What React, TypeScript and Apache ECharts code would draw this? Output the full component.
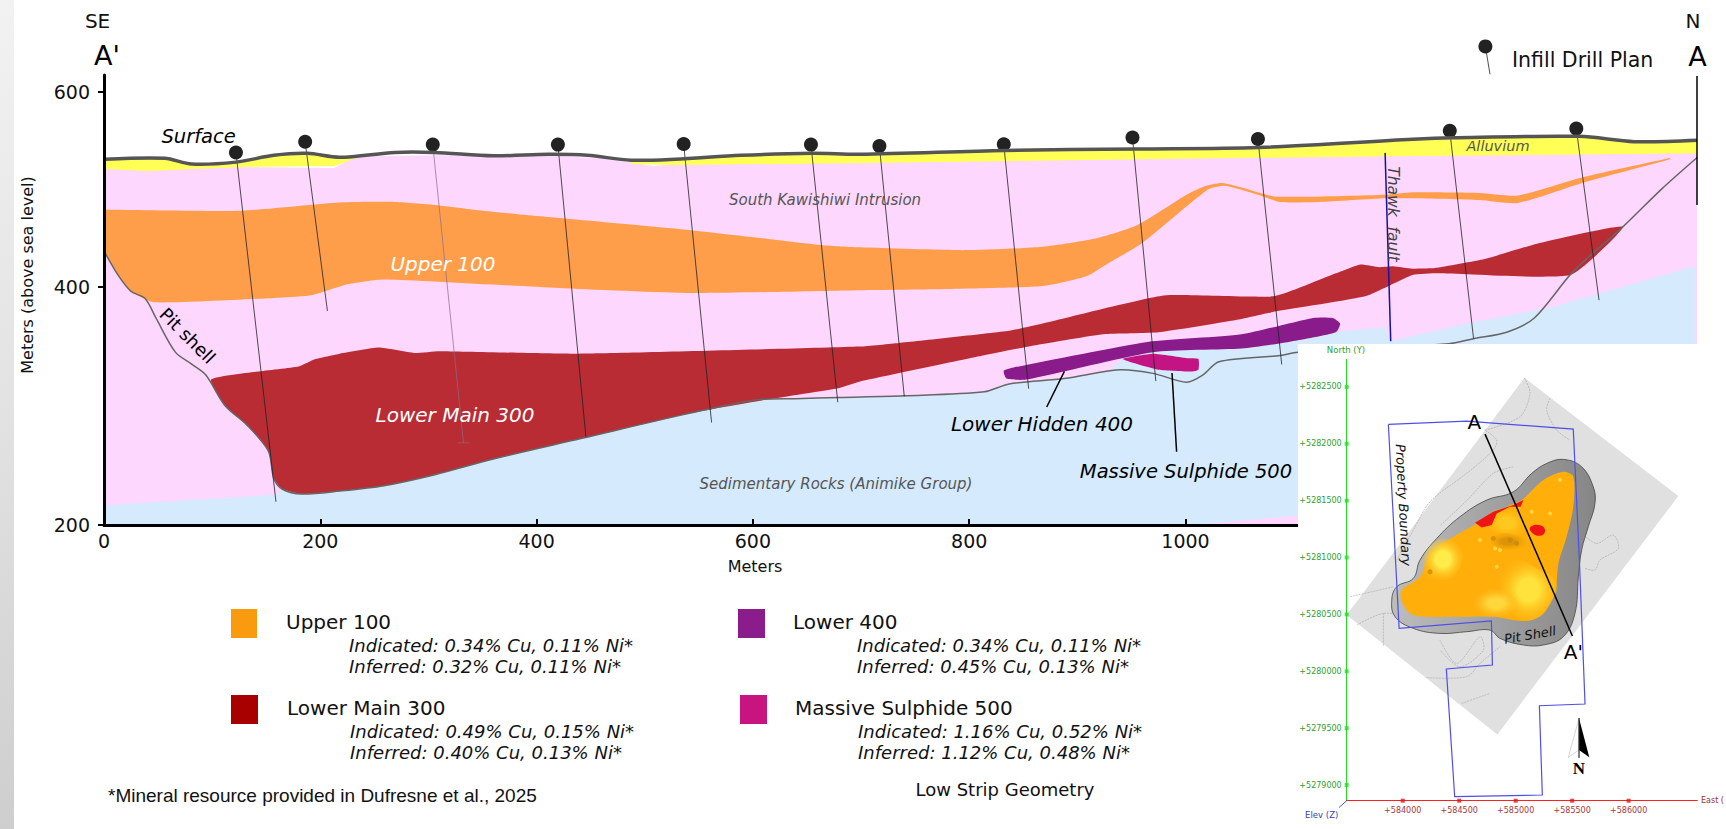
import React, { useEffect, useRef } from "react";
import * as echarts from "echarts";

const xTickValues = [0, 200, 400, 600, 800, 1000];
const yTickValues = [200, 400, 600];
const surface = [[1,531],[56,532],[81,526],[122,528],[157,535],[188,537],[218,533],[269,538],[305,538],[360,534.5],[411,536],[447,535],[487,530],[528,531],[589,535],[655,537],[699,536],[832,540],[955,541.5],[1067,543],[1210,551.5],[1246,553],[1364,554.5],[1415,549],[1473,550.5]];
const alluviumLeftBase = [[233,532],[213,524],[127,523],[81,521],[41,519],[1,521]];
const alluviumRightBase = [[1473,537],[1185,534],[955,531],[699,527],[528,525],[487,526]];
const intrusionTop = [[1,524],[213,522],[233,534],[305,535],[411,535],[470,531],[508,524],[540,527],[699,530],[955,533],[1185,535],[1473,538]];
const sedimentTop = [[1,216.5],[160,225.5],[165,230],[183,226],[218,228.5],[259,233],[305,242],[360,255.4],[441,272.5],[538,293],[604,305],[639,306],[680,307],[740,308.4],[814,311.7],[837,318.3],[888,322.8],[930,329],[941,339],[970,346],[1052,350],[1098,356],[1139,362],[1185,366],[1188.7,354.2],[1261,369],[1338,382.6],[1471,421]];
const sedimentBase = [[1471,200],[1104,208],[1006,200],[1,200]];
const upper100 = [[0,470],[0,479],[6,479],[127,478],[218,486.4],[269,487],[310,483.4],[350,478],[426,470],[538,458.5],[614,449],[665,442.6],[699,440.4],[796,437.5],[868,441],[919,450],[955,463],[1001,494.5],[1019,503.7],[1034,506.6],[1052,501.8],[1083,492.6],[1185,494.5],[1210,497],[1272,496.3],[1307.5,493.7],[1369,512.9],[1448,532.3],[1448,531],[1369,507.3],[1307.5,486],[1272,489],[1210,490.8],[1185,490.8],[1123,487],[1087.6,487],[1067,494.5],[1036.5,503.7],[1021,500],[960,444.8],[924,421],[909,411],[868,400.7],[781,398],[699,397],[543,394.6],[421,398.8],[259,407.4],[226,402.6],[193,393],[162,390.7],[46,386.8],[25,396],[13,411.8],[1,434.6],[0,445]];
const lowerMain300 = [[99,322],[142,328.7],[180,333],[195,339],[218,343.7],[254,348.8],[287,344.3],[310,345.8],[436,343.7],[699,349.7],[735,352.7],[837,363],[868,369],[980,392.5],[1082.5,392],[1139,413.6],[1161.6,422.8],[1179.5,420],[1192,420.9],[1210,418.4],[1230.6,419],[1276.6,428.3],[1325,444],[1404.4,461.4],[1355.8,411.8],[1233,413.6],[1210,411.8],[1167,392],[1082.5,379],[1046.7,372],[975,361.7],[924,360],[862.7,351],[811.6,342],[699,320.4],[680,315],[614,305.4],[538,293],[441,272.5],[360,255.4],[305,242],[259,233],[218,228.5],[183,226],[165,230],[157,239],[152,262],[132,284],[112,300]];
const lower400 = [[832,329.3],[842,332.3],[965,353.6],[1052,360],[1118,373.7],[1136,373.7],[1143,369],[1139,361.7],[1098,354],[1052,348],[970,345],[852.5,322],[834.6,322.8]];
const massiveSulphide500 = [[942,339.2],[970,343.7],[1003,339.8],[1012,339.2],[1012,330.2],[1006,328.7],[975,330.2]];
const pitShell = [[1,434.6],[13,411.8],[25,396],[38,390],[48,373.7],[66,345],[81,335],[94,326],[112,300],[132,284],[152,262],[157,239],[165,230],[183,226],[218,228.5],[259,233],[305,242],[360,255.4],[441,272.5],[538,293],[604,305],[639,306],[680,307],[740,308.4],[814,311.7],[837,318.3],[888,322.8],[939,330.2],[970,327.2],[1001,319.8],[1016,325.8],[1031,337],[1087.6,342.2],[1104,345],[1243.4,352],[1266.4,356.3],[1297,361.7],[1322.6,373.7],[1358.4,415.4],[1404.4,461.4],[1440,500],[1473.4,533]];
const thawkFault = [[1184.6,537.5],[1189.8,354.2]];
const drillHoles = [[122,537.9,159,219.5],[186,548.9,206.6,379.6],[304,546,332.4,268.9],[419.7,546,445.6,274],[536,546.7,561.8,286],[653.7,546,678.5,303],[717,544.5,740,307.8],[832,546.3,855,314.4],[951,553.3,972.6,320.7],[1067,551.8,1089,334.7],[1244.4,560.3,1266.4,356.3],[1361.4,562.5,1382.4,388.6]];

// ---- Inset plan map: [metres east of +584000, metres north of +5279000] ----
const eastTicks = [584000, 584500, 585000, 585500, 586000];
const northTicks = [5279000, 5279500, 5280000, 5280500, 5281000, 5281500, 5282000, 5282500];
const E0 = 584000;
const N0 = 5279000;
const mapSheet = [[1077,3580],[2440,2540],[838,445],[-496,1494]];
const propertyBoundary = [[-127,3170],[566,3200],[1510,3129],[1564,1978],[1614,712],[1210,697],[1236,-88],[460,-103],[386,1020],[794,1055],[785,1442],[-32,1377],[-127,3170]];
const pitOutline = [[1422,2863],[1584,2798],[1687,2622],[1702,2476],[1643,2271],[1584,2066],[1555,1831],[1525,1509],[1422,1304],[1245,1231],[1068,1231],[861,1289],[773,1362],[566,1348],[330,1333],[94,1377],[-68,1480],[-97,1626],[-53,1743],[94,1817],[153,1978],[301,2168],[507,2359],[743,2505],[979,2578],[1142,2740],[1274,2827]];
const pitCore = [[1422,2754],[1510,2710],[1510,2447],[1451,2183],[1378,1948],[1348,1685],[1245,1509],[1097,1442],[802,1480],[448,1480],[94,1494],[-9,1612],[-9,1714],[153,1831],[242,2036],[448,2183],[655,2300],[920,2447],[1053,2505],[1245,2681]];
const gradePatchA = [[950,1978],[1215,1890],[1363,1773],[1319,1626],[1186,1465],[980,1500],[861,1773]];
const gradePatchA2 = [[684,1685],[950,1685],[1009,1509],[802,1480],[650,1500]];
const gradePatchB = [[300,2150],[500,2100],[500,1900],[340,1800],[180,1900]];
const gradePatchC = [[760,2380],[950,2432],[1060,2359],[1083,2183],[950,2212],[790,2230]];
const gradePatchD = [[773,2168],[979,2212],[1097,2124],[979,2066],[832,2095]];
const highGradeA = [[640,2306],[802,2403],[979,2461],[1068,2505],[1044,2447],[950,2447],[832,2388],[788,2285],[699,2265]];
const highGradeB = [[1133,2271],[1230,2280],[1260,2227],[1215,2192],[1142,2221]];
const brightSpots = [[1142,2403],[1304,2388],[1392,2681],[832,1919],[817,2080],[861,2066],[684,2154]];
const darkSpots = [[950,2154],[242,1875],[1009,2124],[802,2168]];
const sectionLine = [[729,3085],[1502,1310]];
const contours = [
  [[729,3120],[832,3033],[802,2945],[566,2740],[242,2491],[94,2241],[-53,1978]],
  [[1077,3580],[1127,3443],[1038,3238],[729,3120]],
  [[1304,3399],[1274,3296],[1363,3120],[1481,3033]],
  [[979,2798],[802,2740],[566,2500],[330,2280]],
  [[1584,2212],[1717,2124],[1864,2198],[1909,2080],[1746,1978],[1702,1890],[1614,1905]],
  [[330,1275],[478,1069],[684,1304],[714,1187],[507,1040],[330,1187]],
  [[212,945],[566,952],[684,1069],[861,1216]],
  [[522,718],[773,806]],
  [[-407,1406],[-171,1509],[94,1480]],
  [[-171,1509],[-171,1216]],
  [[-466,1655],[-83,1743]],
];

// ---- Texts ----
const sans = "'DejaVu Sans'";
const legendEntries = [
  { swatch: "#FA9A0E", x: 231, y: 609, w: 26, name: "Upper 100", nameX: 286, textX: 349, ind: "Indicated: 0.34% Cu, 0.11% Ni*", inf: "Inferred: 0.32% Cu, 0.11% Ni*" },
  { swatch: "#A80000", x: 231, y: 695, w: 27, name: "Lower Main 300", nameX: 287, textX: 350, ind: "Indicated: 0.49% Cu, 0.15% Ni*", inf: "Inferred: 0.40% Cu, 0.13% Ni*" },
  { swatch: "#8A1C8C", x: 738, y: 609, w: 27, name: "Lower 400", nameX: 793, textX: 857, ind: "Indicated: 0.34% Cu, 0.11% Ni*", inf: "Inferred: 0.45% Cu, 0.13% Ni*" },
  { swatch: "#C8147F", x: 740, y: 695, w: 27, name: "Massive Sulphide 500", nameX: 795, textX: 858, ind: "Indicated: 1.16% Cu, 0.52% Ni*", inf: "Inferred: 1.12% Cu, 0.48% Ni*" },
];

// The printed elevation ticks are unevenly spaced in the source figure (400 sits
// closer to 600 than to 200), so the linear axis is reached through this mapping.
const toAxis = (e: number) => (e <= 400 ? 200 + (e - 200) * 1.1015 : 420.3 + (e - 400) * 0.8985);
const fromAxis = (v: number) => (v <= 420.3 ? 200 + (v - 200) / 1.1015 : 400 + (v - 420.3) / 0.8985);
const sec = (pts: number[][]) => pts.map(([m, e]) => [m, toAxis(e)]);
const plan = (pts: number[][]) => pts.map(([e, n]) => [E0 + e, N0 + n]);

const shape = (kind: string, pts: number[][], grid: number, style: any, z: number, smooth = 0) => ({
  type: "custom",
  coordinateSystem: "cartesian2d",
  xAxisIndex: grid,
  yAxisIndex: grid,
  z,
  silent: true,
  data: pts,
  renderItem: (p: any, api: any) =>
    p.dataIndex
      ? null
      : { type: kind, shape: { points: pts.map((q) => api.coord(q)), smooth }, style },
});

const glow = (color: string) =>
  new echarts.graphic.RadialGradient(0.5, 0.5, 0.62, [
    { offset: 0, color },
    { offset: 0.3, color },
    { offset: 1, color: "rgba(255,174,10,0)" },
  ]);

const spots = (pts: number[][], color: string, size: number) => ({
  type: "scatter",
  xAxisIndex: 1,
  yAxisIndex: 1,
  z: 6,
  silent: true,
  symbolSize: size,
  itemStyle: { color, opacity: 0.7 },
  data: plan(pts),
});

const text = (t: string, x: number, y: number, font: string, fill = "#000", align = "center", rotation = 0, z = 8) => ({
  type: "text",
  x,
  y,
  rotation,
  z,
  silent: true,
  style: { text: t, font, fill, align, verticalAlign: "middle" },
});

function buildOption() {
  const main = [
    shape("polygon", sec([...intrusionTop, [1473, 200], [1, 200]]), 0, { fill: "#FDD7FD" }, 2),
    shape("polygon", sec([...sedimentTop, ...sedimentBase]), 0, { fill: "#D5EAFD" }, 2),
    shape("polygon", sec([...surface.filter((p) => p[0] <= 233), ...alluviumLeftBase]), 0, { fill: "#FFFF55" }, 2),
    shape("polygon", sec([...surface.filter((p) => p[0] >= 487), ...alluviumRightBase]), 0, { fill: "#FFFF55" }, 2),
    shape("polygon", sec(upper100), 0, { fill: "#FF9E4A" }, 2, 0.2),
    shape("polygon", sec(lowerMain300), 0, { fill: "#B92C34" }, 2, 0.15),
    shape("polygon", sec(lower400), 0, { fill: "#8A1B8A" }, 2, 0.2),
    shape("polygon", sec(massiveSulphide500), 0, { fill: "#C41484" }, 2, 0.15),
    shape("polyline", sec(pitShell), 0, { stroke: "#666", fill: null, lineWidth: 1.5 }, 2, 0.3),
    shape("polyline", sec(thawkFault), 0, { stroke: "#1414A0", fill: null, lineWidth: 1.5 }, 2),
    {
      type: "custom",
      coordinateSystem: "cartesian2d",
      xAxisIndex: 0,
      yAxisIndex: 0,
      z: 2,
      silent: true,
      data: drillHoles,
      renderItem: (p: any, api: any) => {
        const a = api.coord([api.value(0), toAxis(api.value(1))]);
        const b = api.coord([api.value(2), toAxis(api.value(3))]);
        const faint = p.dataIndex === 2;
        const stroke = faint ? "#8A6A8A" : "#222";
        const children: any[] = [
          { type: "line", shape: { x1: a[0], y1: a[1], x2: b[0], y2: b[1] }, style: { stroke, lineWidth: faint ? 0.7 : 0.8 } },
          { type: "circle", shape: { cx: a[0], cy: a[1], r: 7 }, style: { fill: "#222" } },
        ];
        if (faint) {
          children.push({ type: "line", shape: { x1: b[0] - 6, y1: b[1], x2: b[0] + 6, y2: b[1] }, style: { stroke, lineWidth: 0.7 } });
        }
        return { type: "group", children };
      },
    },
    shape("polyline", sec(surface), 0, { stroke: "#555", fill: null, lineWidth: 3.5 }, 2, 0.3),
  ];

  const inset = [
    shape("polygon", plan(mapSheet), 1, { fill: "#E0E0E0" }, 6),
    ...contours.map((c) => shape("polyline", plan(c), 1, { stroke: "#ABABAB", fill: null, lineWidth: 0.7, lineDash: [2, 1] }, 6, 0.3)),
    shape(
      "polygon",
      plan(pitOutline),
      1,
      {
        fill: new echarts.graphic.LinearGradient(0, 0, 1, 0, [
          { offset: 0, color: "#BDBDBD" },
          { offset: 1, color: "#868686" },
        ]),
        stroke: "#444",
        lineWidth: 0.8,
      },
      6,
      0.4,
    ),
    shape("polygon", plan(pitCore), 1, { fill: "#FFAE0A" }, 6, 0.3),
    shape("polygon", plan(gradePatchD), 1, { fill: glow("#DC9406") }, 6, 0.5),
    shape("polygon", plan(gradePatchC), 1, { fill: glow("#FFC81E") }, 6, 0.5),
    shape("polygon", plan(gradePatchA), 1, { fill: glow("#FFE23C") }, 6, 0.5),
    shape("polygon", plan(gradePatchA2), 1, { fill: glow("#FFD63C") }, 6, 0.5),
    shape("polygon", plan(gradePatchB), 1, { fill: glow("#FFEC4A") }, 6, 0.5),
    spots(brightSpots, "#FFE65A", 4),
    spots(darkSpots, "#C4860A", 5),
    shape("polygon", plan(highGradeA), 1, { fill: "#F01414" }, 6),
    shape("polygon", plan(highGradeB), 1, { fill: "#F01414" }, 6, 0.5),
    shape("polyline", plan(propertyBoundary), 1, { stroke: "#4F4FE8", fill: null, lineWidth: 1.2 }, 6),
    shape("polyline", plan(sectionLine), 1, { stroke: "#000", fill: null, lineWidth: 1.5 }, 6),
    {
      type: "scatter",
      xAxisIndex: 1,
      yAxisIndex: 1,
      z: 7,
      silent: true,
      clip: false,
      symbol: "rect",
      symbolSize: 4,
      itemStyle: { color: "#22DD22" },
      data: northTicks.map((n) => [583504, n]),
    },
    {
      type: "scatter",
      xAxisIndex: 1,
      yAxisIndex: 1,
      z: 7,
      silent: true,
      clip: false,
      symbol: "rect",
      symbolSize: 4,
      itemStyle: { color: "#E01818" },
      data: eastTicks.map((e) => [e, 5278862]),
    },
  ];

  const legendGraphics: any[] = [];
  legendEntries.forEach((l) => {
    legendGraphics.push({ type: "rect", z: 8, silent: true, shape: { x: l.x, y: l.y, width: l.w, height: 29 }, style: { fill: l.swatch } });
    legendGraphics.push(text(l.name, l.nameX, l.y + 13, `20px ${sans}`, "#111", "left"));
    legendGraphics.push(text(l.ind, l.textX, l.y + 36, `italic 18px ${sans}`, "#111", "left"));
    legendGraphics.push(text(l.inf, l.textX, l.y + 57, `italic 18px ${sans}`, "#111", "left"));
  });

  const graphics: any[] = [
    {
      type: "rect",
      z: 1,
      silent: true,
      shape: { x: 0, y: 0, width: 14, height: 829 },
      style: {
        fill: new echarts.graphic.LinearGradient(0, 0, 0, 1, [
          { offset: 0, color: "#F2F2F2" },
          { offset: 0.5, color: "#E2E2E2" },
          { offset: 1, color: "#CECECE" },
        ]),
      },
    },
    { type: "rect", z: 5, silent: true, shape: { x: 1298, y: 344, width: 428, height: 485 }, style: { fill: "#FFFFFF" } },
    text("SE", 97.6, 21.4, `20px ${sans}`, "#111"),
    text("A'", 107, 55, `500 27px ${sans}`),
    text("N", 1693, 21.4, `20px ${sans}`, "#111"),
    text("A", 1697.6, 56.4, `500 27px ${sans}`),
    { type: "line", z: 8, silent: true, shape: { x1: 1697, y1: 76, x2: 1697, y2: 205 }, style: { stroke: "#000", lineWidth: 1.5 } },
    { type: "circle", z: 8, silent: true, shape: { cx: 1485.4, cy: 46.4, r: 7 }, style: { fill: "#222" } },
    { type: "line", z: 8, silent: true, shape: { x1: 1485.4, y1: 46.4, x2: 1490, y2: 74.3 }, style: { stroke: "#222", lineWidth: 0.8 } },
    text("Infill Drill Plan", 1512, 60, `20.5px ${sans}`, "#111", "left"),
    text("Surface", 198.6, 136.8, `italic 19.5px ${sans}`),
    text("Pit shell", 187.6, 335.7, `18px ${sans}`, "#000", "center", -Math.PI / 4),
    text("Upper 100", 443, 263.6, `italic 20px ${sans}`, "#fff"),
    text("Lower Main 300", 455, 415, `italic 20px ${sans}`, "#fff"),
    text("South Kawishiwi Intrusion", 825, 200, `italic 15px ${sans}`, "#555"),
    text("Sedimentary Rocks (Animike Group)", 836, 484, `italic 15px ${sans}`, "#555"),
    text("Alluvium", 1498, 146.4, `italic 14.5px ${sans}`, "#555"),
    text("Thawk  fault", 1393, 214, `italic 15.5px ${sans}`, "#444", "center", -Math.PI / 2),
    text("Lower Hidden 400", 1042, 424, `italic 20px ${sans}`),
    text("Massive Sulphide 500", 1186, 471, `italic 19.5px ${sans}`),
    { type: "line", z: 4, silent: true, shape: { x1: 1064.4, y1: 371.4, x2: 1046.7, y2: 407 }, style: { stroke: "#000", lineWidth: 1.5 } },
    { type: "line", z: 4, silent: true, shape: { x1: 1172, y1: 373, x2: 1176.6, y2: 451.8 }, style: { stroke: "#000", lineWidth: 1.5 } },
    text("Meters (above sea level)", 27.4, 275, `16px ${sans}`, "#111", "center", Math.PI / 2),
    text("Meters", 755, 566, `16px ${sans}`, "#111"),
    ...legendGraphics,
    text("*Mineral resource provided in Dufresne et al., 2025", 108, 795, "19px 'Liberation Sans'", "#111", "left"),
    text("Low Strip Geometry", 1005, 789, `18px ${sans}`, "#111"),
    text("North (Y)", 1346, 350, `8.5px ${sans}`, "#2E9E2E"),
    text("East (", 1701, 800.7, `8px ${sans}`, "#A03030", "left"),
    text("Elev (Z)", 1321.7, 815, `8.5px ${sans}`, "#3C3CA8"),
    { type: "line", z: 8, silent: true, shape: { x1: 1346.7, y1: 800.7, x2: 1339, y2: 807.5 }, style: { stroke: "#5050E0", lineWidth: 1 } },
    text("A", 1474.3, 421.7, `20px ${sans}`),
    text("A'", 1573.3, 651.7, `20px ${sans}`),
    text("Property Boundary", 1403.3, 505, `italic 13px ${sans}`, "#111", "center", -1.52),
    text("Pit Shell", 1530, 635, `italic 13px ${sans}`, "#111", "center", 0.17),
    { type: "polygon", z: 8, silent: true, shape: { points: [[1579, 718.3], [1589.3, 757.3], [1579, 750]] }, style: { fill: "#000" } },
    { type: "polygon", z: 8, silent: true, shape: { points: [[1579, 718.3], [1568.3, 757.3], [1579, 750]] }, style: { fill: "#fff", stroke: "#bbb", lineWidth: 0.6 } },
    { type: "line", z: 8, silent: true, shape: { x1: 1579, y1: 718, x2: 1579, y2: 758 }, style: { stroke: "#000", lineWidth: 1 } },
    text("N", 1579, 768.3, "bold 17px 'Liberation Serif'"),
  ];

  return {
    animation: false,
    backgroundColor: "#fff",
    grid: [
      { left: 104, top: 75, width: 1593, height: 450 },
      { left: 1346.7, top: 359.3, width: 350.6, height: 441.4 },
    ],
    xAxis: [
      {
        type: "value",
        min: 0,
        max: 1473,
        z: 3,
        splitLine: { show: false },
        axisLine: { onZero: false, lineStyle: { color: "#000", width: 3 } },
        axisTick: { inside: true, length: 6, customValues: xTickValues, lineStyle: { color: "#000", width: 2 } },
        axisLabel: { customValues: xTickValues, margin: 6, fontFamily: "DejaVu Sans", fontSize: 19, color: "#111", formatter: (v: number) => `${v}` },
      },
      {
        type: "value",
        gridIndex: 1,
        min: 583504,
        max: 586608,
        z: 6,
        splitLine: { show: false },
        axisLine: { onZero: false, lineStyle: { color: "#FF2020", width: 1 } },
        axisTick: { show: false },
        axisLabel: { customValues: eastTicks, margin: 6, fontFamily: "DejaVu Sans", fontSize: 8, color: "#A83838", formatter: (v: number) => `+${v}` },
      },
    ],
    yAxis: [
      {
        type: "value",
        min: 200,
        max: toAxis(617.6),
        z: 3,
        splitLine: { show: false },
        axisLine: { onZero: false, lineStyle: { color: "#000", width: 3 } },
        axisTick: { length: 6, customValues: yTickValues.map(toAxis), lineStyle: { color: "#000", width: 2 } },
        axisLabel: {
          customValues: yTickValues.map(toAxis),
          margin: 14,
          fontFamily: "DejaVu Sans",
          fontSize: 19,
          color: "#111",
          formatter: (v: number) => `${Math.round(fromAxis(v))}`,
        },
      },
      {
        type: "value",
        gridIndex: 1,
        min: 5278862,
        max: 5282743,
        z: 6,
        splitLine: { show: false },
        axisLine: { onZero: false, lineStyle: { color: "#22DD22", width: 1 } },
        axisTick: { show: false },
        axisLabel: { customValues: northTicks, margin: 5, fontFamily: "DejaVu Sans", fontSize: 8, color: "#2E9E2E", formatter: (v: number) => `+${v}` },
      },
    ],
    graphic: graphics,
    series: [...main, ...inset],
  };
}

export default function App() {
  const ref = useRef<HTMLDivElement>(null);
  useEffect(() => {
    document.body.style.margin = "0";
    const chart = echarts.init(ref.current!, undefined, { renderer: "svg" });
    chart.setOption(buildOption() as any);
    return () => chart.dispose();
  }, []);
  return <div ref={ref} style={{ position: "absolute", left: 0, top: 0, width: 1726, height: 829 }} />;
}
